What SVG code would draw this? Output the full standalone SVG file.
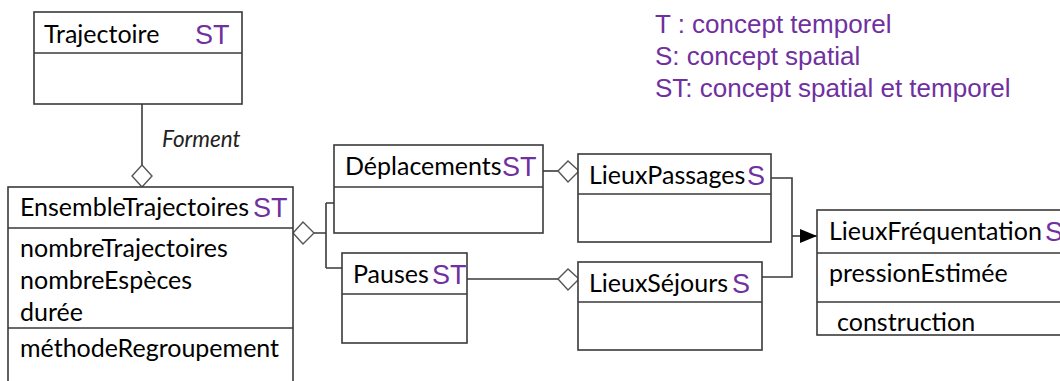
<svg xmlns="http://www.w3.org/2000/svg" width="1060" height="381" viewBox="0 0 1060 381">
<defs>
<style>
.box{fill:#fff;stroke:#3a3a3a;stroke-width:1.6}
.ln{fill:none;stroke:#3a3a3a;stroke-width:1.6}
.dia{fill:#fff;stroke:#555;stroke-width:1.4}
.t{font-family:Lato,"Liberation Sans",sans-serif;font-size:25px;fill:#000}
.p{font-family:"Liberation Sans",Arial,sans-serif;fill:#7030A0}
.cls{font-size:27px}
.leg{font-size:26px}
.it{font-family:Lato,"Liberation Sans",sans-serif;font-size:22.5px;font-style:italic;fill:#222}
</style>
<marker id="arr" markerWidth="18" markerHeight="14" refX="17" refY="7" orient="auto" markerUnits="userSpaceOnUse">
<path d="M0,0 L17,7 L0,14 Z" fill="#000"/>
</marker>
</defs>
<rect width="1060" height="381" fill="#fff"/>
<g id="legend">
<text class="p leg" x="655" y="33">T : concept temporel</text>
<text class="p leg" x="655" y="65">S: concept spatial</text>
<text class="p leg" x="655" y="97">ST: concept spatial et temporel</text>
</g>
<g id="connectors">
<path class="ln" d="M142,104 V166"/>
<path class="dia" d="M142,165 L152,176 L142,187 L132,176 Z"/>
<text class="it" x="162" y="147">Forment</text>
<path class="ln" d="M314,233 H326 M326,203 V268 M326,203 H334 M326,268 H342"/>
<path class="dia" d="M293,233 L303,222 L314,233 L303,244 Z"/>
<path class="ln" d="M543,171 H558"/>
<path class="dia" d="M558,171 L568,161 L579,171 L568,182 Z"/>
<path class="ln" d="M467,279 H558"/>
<path class="dia" d="M558,279 L568,269 L579,279 L568,290 Z"/>
<path class="ln" d="M771,178 H792 V277 H762"/>
<path class="ln" d="M792,236 H817" marker-end="url(#arr)"/>
</g>
<g id="Trajectoire">
<rect class="box" x="34" y="12" width="208" height="92"/>
<path class="ln" d="M34,53 H242"/>
<text class="t" x="44" y="43">Trajectoire</text>
<text class="p cls" x="195" y="44">ST</text>
</g>
<g id="EnsembleTrajectoires">
<rect class="box" x="8" y="187" width="285" height="210"/>
<path class="ln" d="M8,228 H293 M8,328 H293"/>
<text class="t" x="20" y="216">EnsembleTrajectoires</text>
<text class="p cls" x="253" y="217">ST</text>
<text class="t" x="20" y="257">nombreTrajectoires</text>
<text class="t" x="20" y="289">nombreEspèces</text>
<text class="t" x="20" y="321">durée</text>
<text class="t" x="20" y="357">méthodeRegroupement</text>
</g>
<g id="Deplacements">
<rect class="box" x="334" y="145" width="209" height="88"/>
<path class="ln" d="M334,187 H543"/>
<text class="t" x="345" y="175">Déplacements</text>
<text class="p cls" x="502" y="176">ST</text>
</g>
<g id="Pauses">
<rect class="box" x="342" y="253" width="125" height="90"/>
<path class="ln" d="M342,294 H467"/>
<text class="t" x="353" y="283">Pauses</text>
<text class="p cls" x="432" y="284">ST</text>
</g>
<g id="LieuxPassages">
<rect class="box" x="578" y="154" width="193" height="88"/>
<path class="ln" d="M578,194 H771"/>
<text class="t" x="589" y="184">LieuxPassages</text>
<text class="p cls" x="747" y="185">S</text>
</g>
<g id="LieuxSejours">
<rect class="box" x="578" y="262" width="184" height="88"/>
<path class="ln" d="M578,302 H762"/>
<text class="t" x="589" y="292">LieuxSéjours</text>
<text class="p cls" x="732" y="293">S</text>
</g>
<g id="LieuxFrequentation">
<rect class="box" x="817" y="210" width="260" height="125"/>
<path class="ln" d="M817,253 H1077 M817,302 H1077"/>
<text class="t" x="829" y="240">LieuxFréquentation</text>
<text class="p cls" x="1045" y="241">S</text>
<text class="t" x="829" y="282">pressionEstimée</text>
<text class="t" x="837" y="331">construction</text>
</g>
</svg>
